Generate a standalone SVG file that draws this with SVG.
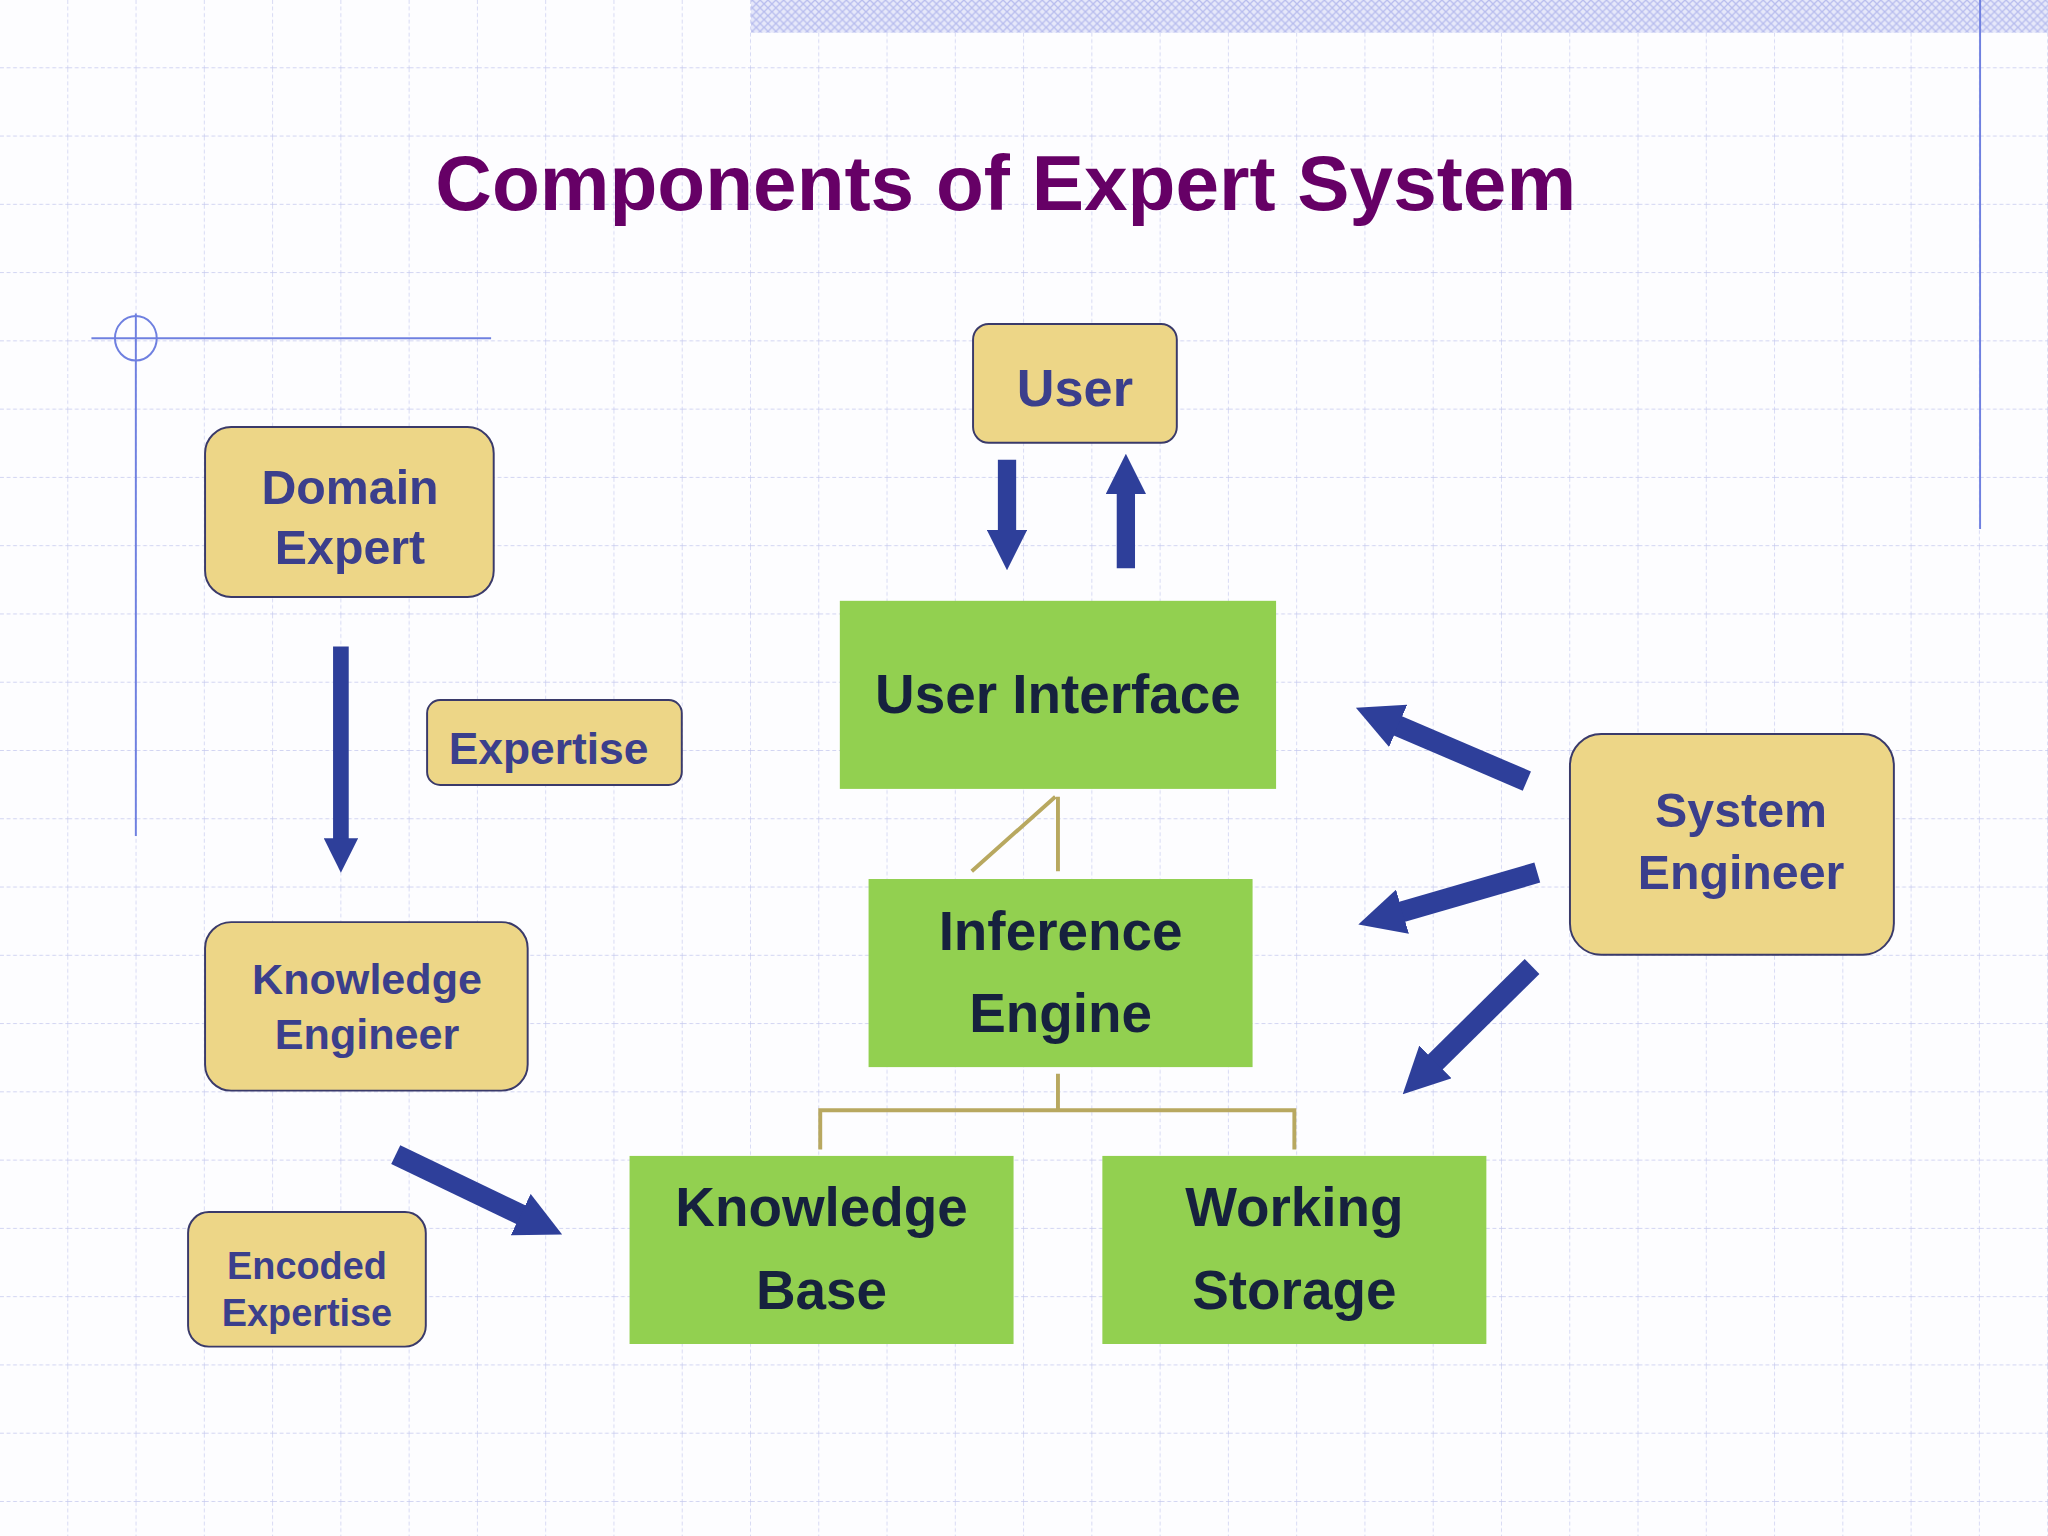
<svg xmlns="http://www.w3.org/2000/svg" width="2048" height="1536" viewBox="0 0 2048 1536">
<defs>
<pattern id="gv" width="52.27" height="52.27" patternUnits="userSpaceOnUse">
<path d="M52.27 0V52.27M0 52.27H52.27" stroke="#c4c8ee" stroke-width="1" stroke-dasharray="3 2" fill="none"/>
</pattern>
<pattern id="hatch" width="6" height="6" patternUnits="userSpaceOnUse">
<rect width="6" height="6" fill="#e6e8fa"/><path d="M0 6L6 0M0 0L6 6" stroke="#b8bdee" stroke-width="1"/>
</pattern>
<marker id="ah" viewBox="0 0 10 10" refX="2" refY="5" markerWidth="2.2" markerHeight="2.2" orient="auto">
<path d="M0 0L10 5L0 10z" fill="#2E3F9A"/>
</marker>
<style>
.y{fill:#EDD687;stroke:#3a3a6a;stroke-width:1.5}
.g{fill:#92D050}
.ty{font-family:"Liberation Sans",Arial,sans-serif;font-weight:bold;fill:#3B3F8C;text-anchor:middle}
.tg{font-family:"Liberation Sans",Arial,sans-serif;font-weight:bold;fill:#16213E;text-anchor:middle;font-size:42px}
.ar{stroke:#2E3F9A;fill:none;marker-end:url(#ah)}
.ol{stroke:#B8A860;stroke-width:3;fill:none}
</style>
</defs>
<rect width="2048" height="1536" fill="#fdfdff"/>
<g transform="scale(1.30612)">
<rect width="1568" height="1176" fill="url(#gv)"/>
<rect x="575" y="0" width="993" height="25" fill="url(#hatch)"/>
<line x1="1516" y1="0" x2="1516" y2="405" stroke="#6f80e0" stroke-width="1.5"/>
<line x1="70" y1="259" x2="376" y2="259" stroke="#6f80e0" stroke-width="1.5"/>
<line x1="104" y1="240" x2="104" y2="640" stroke="#6f80e0" stroke-width="1.5"/>
<ellipse cx="104" cy="259" rx="16" ry="17" fill="none" stroke="#6f80e0" stroke-width="1.5"/>
<text x="770" y="161" font-family="Liberation Sans,Arial,sans-serif" font-weight="bold" font-size="60" fill="#660066" text-anchor="middle">Components of Expert System</text>

<g id="connectors">
<path class="ol" d="M810 610V667M808 610L744 667M810 822V850M628 880V850H991V880"/>
<line class="ar" x1="771" y1="352" x2="771" y2="412" stroke-width="14"/>
<line class="ar" x1="862" y1="435" x2="862" y2="372" stroke-width="14"/>
<line class="ar" x1="261" y1="495" x2="261" y2="647" stroke-width="12"/>
<line class="ar" x1="303" y1="884" x2="405" y2="933" stroke-width="16"/>
<line class="ar" x1="1169" y1="598" x2="1064" y2="553" stroke-width="16"/>
<line class="ar" x1="1177" y1="668" x2="1067" y2="700" stroke-width="16"/>
<line class="ar" x1="1173" y1="740" x2="1094" y2="818" stroke-width="16"/>
</g>

<g id="user"><rect class="y" x="745" y="248" width="156" height="91" rx="12"/><text class="ty" x="823" y="311" font-size="40">User</text></g>
<g id="domain-expert"><rect class="y" x="157" y="327" width="221" height="130" rx="20"/><text class="ty" x="268" y="386" font-size="37">Domain</text><text class="ty" x="268" y="432" font-size="37">Expert</text></g>
<g id="expertise"><rect class="y" x="327" y="536" width="195" height="65" rx="10"/><text class="ty" x="420" y="585" font-size="34">Expertise</text></g>
<g id="knowledge-engineer"><rect class="y" x="157" y="706" width="247" height="129" rx="20"/><text class="ty" x="281" y="761" font-size="33">Knowledge</text><text class="ty" x="281" y="803" font-size="33">Engineer</text></g>
<g id="encoded-expertise"><rect class="y" x="144" y="928" width="182" height="103" rx="16"/><text class="ty" x="235" y="979" font-size="29">Encoded</text><text class="ty" x="235" y="1015" font-size="29">Expertise</text></g>
<g id="system-engineer"><rect class="y" x="1202" y="562" width="248" height="169" rx="24"/><text class="ty" x="1333" y="633" font-size="37">System</text><text class="ty" x="1333" y="681" font-size="37">Engineer</text></g>
<g id="user-interface"><rect class="g" x="643" y="460" width="334" height="144"/><text class="tg" x="810" y="546">User Interface</text></g>
<g id="inference-engine"><rect class="g" x="665" y="673" width="294" height="144"/><text class="tg" x="812" y="727">Inference</text><text class="tg" x="812" y="790">Engine</text></g>
<g id="knowledge-base"><rect class="g" x="482" y="885" width="294" height="144"/><text class="tg" x="629" y="939">Knowledge</text><text class="tg" x="629" y="1002">Base</text></g>
<g id="working-storage"><rect class="g" x="844" y="885" width="294" height="144"/><text class="tg" x="991" y="939">Working</text><text class="tg" x="991" y="1002">Storage</text></g>
</g>
</svg>
